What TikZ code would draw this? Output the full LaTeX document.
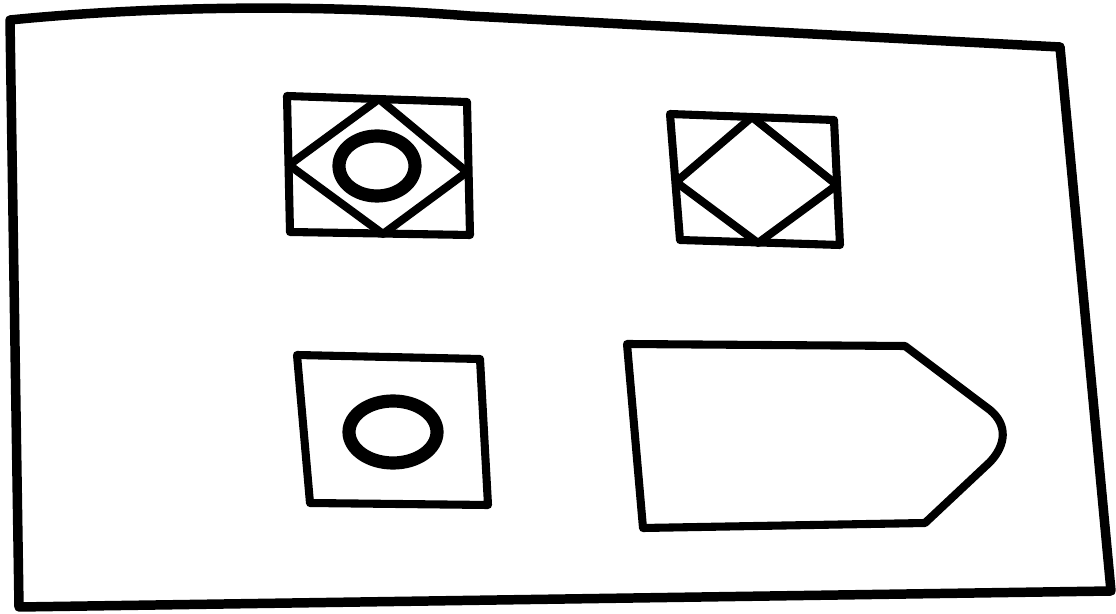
\documentclass[tikz,border=0pt]{standalone}
\begin{document}
\begin{tikzpicture}[x=0.02cm, y=-0.02cm, line join=round, line cap=round,
  outline/.style={draw=black, line width=4.6pt},
  frame/.style={draw=black, line width=5.4pt},
  ring/.style={draw=black, line width=7.5pt}]
	\useasboundingbox (0,0) rectangle (1116,614);

	% Outer sheet
	\draw[frame] (10,20) .. controls (150,6) and (320,4) .. (470,16) -- (1060,47) -- (1111,591) -- (19,607) -- cycle;

	% Top left: box, diamond, ring
	\coordinate (bA1) at (287,96);  \coordinate (bA2) at (467,102);
	\coordinate (bA3) at (470,235); \coordinate (bA4) at (290,232);
	\draw[outline] (bA1) -- (bA2) -- (bA3) -- (bA4) -- cycle;
	\draw[outline] (379,99) -- (467,172) -- (383,234) -- (289,165) -- cycle;
	\draw[ring] (377,166) ellipse [x radius=38, y radius=30];

	% Top right: box, diamond
	\coordinate (bB1) at (670,114); \coordinate (bB2) at (834,120);
	\coordinate (bB3) at (840,245); \coordinate (bB4) at (680,240);
	\draw[outline] (bB1) -- (bB2) -- (bB3) -- (bB4) -- cycle;
	\draw[outline] (752,117) -- (837,185) -- (758,243) -- (676,182) -- cycle;

	% Bottom left: box, ring
	\coordinate (bC1) at (297,355); \coordinate (bC2) at (480,359);
	\coordinate (bC3) at (488,505); \coordinate (bC4) at (310,503);
	\draw[outline] (bC1) -- (bC2) -- (bC3) -- (bC4) -- cycle;
	\draw[ring] (393,432) ellipse [x radius=44, y radius=31];

	% Bottom right: tag
	\draw[outline] (627,344) -- (905,346) -- (990,410) .. controls (1008,425) and (1006,445) .. (990,462) -- (925,523) -- (643,528) -- cycle;
\end{tikzpicture}
\end{document}
